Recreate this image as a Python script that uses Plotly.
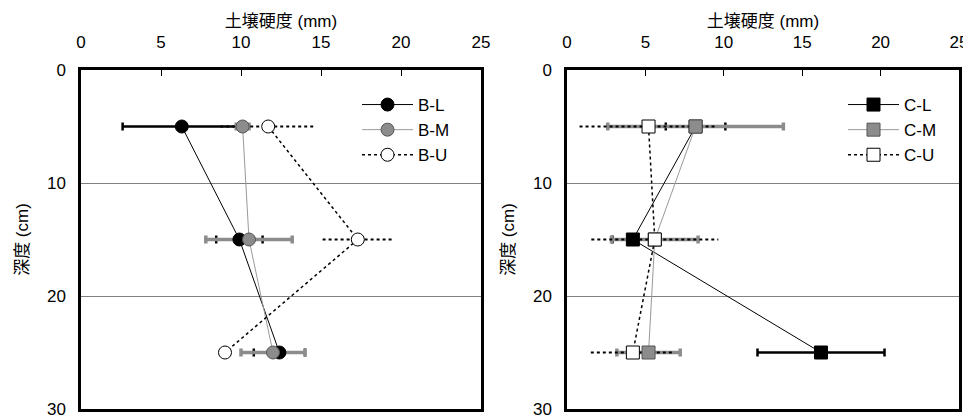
import plotly.graph_objects as go

# ---------------- data ----------------
depth = [5, 15, 25]

# Left panel (B)
b_l = [6.3, 9.9, 12.4]
b_l_err = [3.7, 1.45, 1.6]
b_m = [10.1, 10.5, 12.0]
b_m_err = [0.4, 2.7, 2.0]
b_u = [11.7, 17.3, 9.0]
b_u_err = [3.0, 2.2, 0.0]

# Right panel (C)
c_l = [8.2, 4.2, 16.2]
c_l_err = [1.9, 1.3, 4.05]
c_m = [8.2, 5.6, 5.2]
c_m_err = [5.6, 2.76, 2.02]
c_u = [5.2, 5.6, 4.2]
c_u_err = [4.4, 4.05, 2.68]

x_ticks = [0, 5, 10, 15, 20, 25]
y_ticks = [0, 10, 20, 30]
x_title = "土壌硬度 (mm)"
y_title = "深度 (cm)"

FONT = "Liberation Sans, Arial, Noto Sans CJK JP, sans-serif"
BLACK = "#000000"
GRAY = "#8c8c8c"
GRAY_LINE = "#9a9a9a"

fig = go.Figure()


def dotted_err(xs, errs, ys):
    xx, yy = [], []
    for c, e, d in zip(xs, errs, ys):
        if e <= 0:
            continue
        xx += [c - e, c + e, None]
        yy += [d, d, None]
    return xx, yy


def add_panel(xa, ya, leg, lv, le, mv, me, uv, ue, names, symbol, msize):
    fig.add_trace(go.Scatter(x=lv, y=depth, mode="markers", marker=dict(size=1, opacity=0),
                             error_x=dict(type="data", array=le, color=BLACK, thickness=2.5, width=4),
                             showlegend=False, xaxis=xa, yaxis=ya, hoverinfo="skip"))
    fig.add_trace(go.Scatter(x=mv, y=depth, mode="markers", marker=dict(size=1, opacity=0),
                             error_x=dict(type="data", array=me, color=GRAY, thickness=3.5, width=4),
                             showlegend=False, xaxis=xa, yaxis=ya, hoverinfo="skip"))
    ux, uy = dotted_err(uv, ue, depth)
    fig.add_trace(go.Scatter(x=ux, y=uy, mode="lines", line=dict(color=BLACK, width=2, dash="dot"),
                             showlegend=False, xaxis=xa, yaxis=ya, hoverinfo="skip"))
    fig.add_trace(go.Scatter(x=lv, y=depth, mode="lines+markers", name=names[0],
                             line=dict(color=BLACK, width=1),
                             marker=dict(symbol=symbol, size=msize, color=BLACK,
                                         line=dict(color=BLACK, width=1)),
                             xaxis=xa, yaxis=ya, legend=leg))
    fig.add_trace(go.Scatter(x=mv, y=depth, mode="lines+markers", name=names[1],
                             line=dict(color=GRAY_LINE, width=1),
                             marker=dict(symbol=symbol, size=msize, color=GRAY,
                                         line=dict(color="#555555", width=1)),
                             xaxis=xa, yaxis=ya, legend=leg))
    fig.add_trace(go.Scatter(x=uv, y=depth, mode="lines+markers", name=names[2],
                             line=dict(color=BLACK, width=1.5, dash="dot"),
                             marker=dict(symbol=symbol, size=msize, color="#ffffff",
                                         line=dict(color=BLACK, width=1)),
                             xaxis=xa, yaxis=ya, legend=leg))


add_panel("x", "y", "legend", b_l, b_l_err, b_m, b_m_err, b_u, b_u_err,
          ["B-L", "B-M", "B-U"], "circle", 13)
add_panel("x2", "y2", "legend2", c_l, c_l_err, c_m, c_m_err, c_u, c_u_err,
          ["C-L", "C-M", "C-U"], "square", 13)

# the page body adds an 8px margin, so the figure is laid out 8px smaller
OFF = 8
W, H = 971 - OFF, 418 - OFF
ML, MR, MT, MB = 81 - OFF, 12, 70 - OFF, 9
PW = W - ML - MR
PH = H - MT - MB

xcommon = dict(range=[0, 25], tickvals=x_ticks, side="top", ticks="inside", ticklen=6,
               tickwidth=1, tickcolor=BLACK, showgrid=False, zeroline=False,
               showline=True, linewidth=2.5, linecolor=BLACK, mirror=True, automargin=False,
               tickfont=dict(size=17, color=BLACK), ticklabelstandoff=12,
               ticklabeloverflow="allow",
               title=dict(text=x_title, font=dict(size=17, color=BLACK), standoff=2))
ycommon = dict(range=[30, 0], tickvals=y_ticks, ticks="", showgrid=True,
               gridcolor="#808080", gridwidth=1, zeroline=False, automargin=False,
               showline=True, linewidth=2.5, linecolor=BLACK, mirror=True,
               tickfont=dict(size=17, color=BLACK), ticklabelstandoff=9,
               ticklabeloverflow="allow",
               title=dict(text=y_title, font=dict(size=17, color=BLACK), standoff=14))

fig.update_layout(
    width=W, height=H,
    margin=dict(l=ML, r=MR, t=MT, b=MB, autoexpand=False),
    paper_bgcolor="white", plot_bgcolor="white",
    font=dict(family=FONT, color=BLACK, size=17),
    xaxis=dict(domain=[0, 400 / PW], anchor="y", **xcommon),
    yaxis=dict(domain=[0, 1], anchor="x", **ycommon),
    xaxis2=dict(domain=[(567 - 81) / PW, 1], anchor="y2", **xcommon),
    yaxis2=dict(domain=[0, 1], anchor="x2", **ycommon),
    legend=dict(x=(357 - 81) / PW, y=1 - 17 / PH, xanchor="left", yanchor="top",
                bgcolor="rgba(255,255,255,0)", font=dict(size=17), tracegroupgap=0,
                itemwidth=51),
    legend2=dict(x=(843 - 81) / PW, y=1 - 17 / PH, xanchor="left", yanchor="top",
                 bgcolor="rgba(255,255,255,0)", font=dict(size=17), tracegroupgap=0,
                 itemwidth=51),
    showlegend=True,
)

fig.write_html("out.html")
